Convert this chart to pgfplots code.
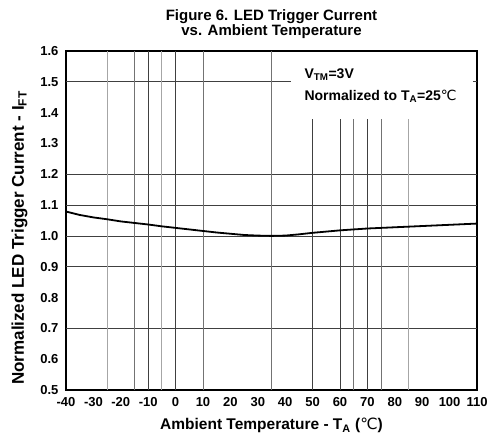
\documentclass[border=0pt]{standalone}
\usepackage{pgfplots}
\pgfplotsset{compat=1.18}
\usepackage{fontspec}
\setmainfont{Liberation Sans}
\newfontfamily\djv{DejaVu Sans}
\definecolor{gdark}{gray}{0.25}
\definecolor{gmid}{gray}{0.45}
\definecolor{glight}{gray}{0.65}
\begin{document}
\begin{tikzpicture}[x=1pt,y=1pt]
\path[use as bounding box] (-66,-53) rectangle (427,390);
\begin{axis}[
  at={(0,0)}, anchor=south west,
  scale only axis, width=411pt, height=339pt,
  xmin=-40, xmax=110, ymin=0.5, ymax=1.6,
  xtick={-40,-30,-20,-10,0,10,20,30,40,50,60,70,80,90,100,110},
  ytick={0.5,0.6,0.7,0.8,0.9,1.0,1.1,1.2,1.3,1.4,1.5,1.6},
  major tick length=0pt,
  axis line style={line width=1.5pt, black},
  /pgf/number format/assume math mode=true,
  yticklabel style={/pgf/number format/fixed, /pgf/number format/fixed zerofill, /pgf/number format/precision=1, xshift=-4pt},
  ticklabel style={font=\fontsize{13}{14}\selectfont\bfseries},
  xticklabel style={yshift=-4pt},
  clip=false,
]
% horizontal grid lines
\draw[gdark, line width=0.8pt] (-40,0.7) -- (110,0.7);
\draw[gdark, line width=0.8pt] (-40,0.9) -- (110,0.9);
\draw[gdark, line width=0.8pt] (-40,1.0) -- (110,1.0);
\draw[gdark, line width=0.8pt] (-40,1.1) -- (110,1.1);
\draw[gdark, line width=0.8pt] (-40,1.2) -- (110,1.2);
\draw[gdark, line width=0.8pt] (-40,1.5) -- (42,1.5);
\draw[gdark, line width=0.8pt] (108.5,1.5) -- (110,1.5);
% vertical grid lines (full height)
\draw[glight, line width=0.8pt] (-25,0.5) -- (-25,1.6);
\draw[gmid, line width=0.8pt] (-15,0.5) -- (-15,1.6);
\draw[gdark, line width=0.8pt] (-10,0.5) -- (-10,1.6);
\draw[glight, line width=0.8pt] (-5,0.5) -- (-5,1.6);
\draw[gdark, line width=0.8pt] (0,0.5) -- (0,1.6);
\draw[gmid, line width=0.8pt] (10,0.5) -- (10,1.6);
\draw[gmid, line width=0.8pt] (35,0.5) -- (35,1.6);
% vertical grid lines (below the note)
\draw[gdark, line width=0.8pt] (50,0.5) -- (50,1.38);
\draw[gdark, line width=0.8pt] (60,0.5) -- (60,1.38);
\draw[gmid, line width=0.8pt] (65,0.5) -- (65,1.38);
\draw[gdark, line width=0.8pt] (70,0.5) -- (70,1.38);
\draw[gmid, line width=0.8pt] (75,0.5) -- (75,1.38);
\draw[glight, line width=0.8pt] (85,0.5) -- (85,1.38);
\addplot[black, line width=1.8pt, line join=round, mark=none] coordinates {
(-40,1.079) (-35,1.068) (-30,1.060) (-25,1.054) (-20,1.047) (-15,1.042)
(-10,1.037) (-5,1.031) (0,1.026) (5,1.021) (10,1.016) (15,1.011)
(20,1.007) (25,1.003) (30,1.001) (35,1.000) (40,1.001) (45,1.005)
(50,1.010) (55,1.014) (60,1.018) (65,1.021) (70,1.024) (75,1.026)
(80,1.028) (85,1.030) (90,1.032) (95,1.034) (100,1.036) (105,1.038) (110,1.040)
};
\node[anchor=base west, font=\fontsize{14}{15}\selectfont\bfseries, inner sep=0pt] at (47,1.512) {V\textsubscript{TM}=3V};
\node[anchor=base west, font=\fontsize{14}{15}\selectfont\bfseries, inner sep=0pt] at (47,1.44) {Normalized to T\textsubscript{A}=25{\djv\mdseries ℃}};
\end{axis}
\node[anchor=base, font=\fontsize{15}{16}\selectfont\bfseries, inner sep=0pt] at (205.5,369) {Figure 6. LED Trigger Current};
\node[anchor=base, font=\fontsize{15}{16}\selectfont\bfseries, inner sep=0pt] at (205.5,354) {vs. Ambient Temperature};
\node[anchor=base, font=\fontsize{15.5}{17}\selectfont\bfseries, inner sep=0pt] at (205.5,-40) {Ambient Temperature - T\textsubscript{A} ({\djv\mdseries ℃})};
\node[anchor=base, rotate=90, font=\fontsize{17}{18}\selectfont\bfseries, inner sep=0pt] at (-42,152) {Normalized LED Trigger Current - I\textsubscript{FT}};
\end{tikzpicture}
\end{document}
